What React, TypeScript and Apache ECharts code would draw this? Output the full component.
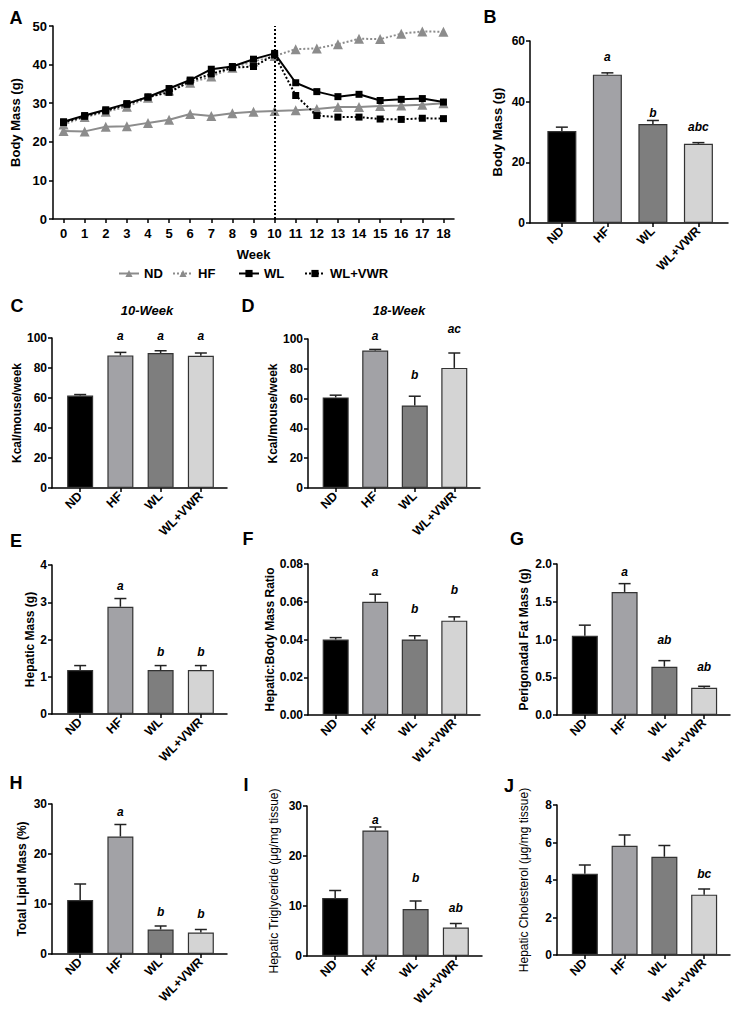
import React, { useEffect, useRef } from "react";
import * as echarts from "echarts";

const FONT = "'Liberation Sans', Arial, Helvetica, sans-serif";

const GROUPS = ["ND", "HF", "WL", "WL+VWR"];
const WEEKS = [0, 1, 2, 3, 4, 5, 6, 7, 8, 9, 10, 11, 12, 13, 14, 15, 16, 17, 18];
const ND_MASS = [22.8, 22.7, 23.9, 24.0, 24.9, 25.7, 27.2, 26.7, 27.4, 27.8, 28.0, 28.2, 28.5, 29.0, 29.0, 29.3, 29.4, 29.6, 30.0];
const HF_MASS = [24.5, 26.4, 27.8, 29.1, 31.4, 33.3, 35.3, 36.9, 39.2, 40.8, 42.2, 44.0, 44.2, 45.3, 46.7, 46.6, 48.0, 48.6, 48.5];
const WL_MASS = [25.2, 26.8, 28.3, 29.9, 31.6, 33.8, 36.0, 38.8, 39.5, 41.4, 42.9, 35.3, 33.0, 31.7, 32.3, 30.7, 31.0, 31.2, 30.3];
const VWR_MASS = [25.0, 26.6, 28.0, 29.7, 31.6, 32.8, 35.7, 37.6, 39.2, 39.5, 42.5, 32.0, 26.8, 26.4, 26.4, 25.9, 25.8, 26.1, 26.0];

// Bar panels: means, SEM, significance letters and the value level at which each letter sits
const B_MEAN = [30.3, 48.9, 32.6, 26.1];
const B_ERR = [1.3, 0.6, 1.2, 0.4];
const B_LET = ["", "a", "b", "abc"];
const B_LEV = [0, 54.7, 36.3, 31.7];

const C_MEAN = [61.6, 88.4, 90.0, 88.2];
const C_ERR = [0.7, 2.0, 1.5, 1.8];
const C_LET = ["", "a", "a", "a"];
const C_LEV = [0, 101.3, 101.3, 101.3];

const D_MEAN = [60.8, 92.2, 55.4, 80.6];
const D_ERR = [1.5, 0.8, 6.2, 10.0];
const D_LET = ["", "a", "b", "ac"];
const D_LEV = [0, 102, 75.8, 106.7];

const E_MEAN = [1.18, 2.88, 1.18, 1.18];
const E_ERR = [0.12, 0.22, 0.12, 0.12];
const E_LET = ["", "a", "b", "b"];
const E_LEV = [0, 3.43, 1.66, 1.66];

const F_MEAN = [0.04, 0.06, 0.04, 0.05];
const F_ERR = [0.001, 0.004, 0.002, 0.002];
const F_LET = ["", "a", "b", "b"];
const F_LEV = [0, 0.0758, 0.0562, 0.0662];

const G_MEAN = [1.05, 1.63, 0.64, 0.36];
const G_ERR = [0.14, 0.11, 0.08, 0.02];
const G_LET = ["", "a", "ab", "ab"];
const G_LEV = [0, 1.89, 0.99, 0.64];

const H_MEAN = [10.8, 23.5, 4.9, 4.3];
const H_ERR = [3.2, 2.4, 0.7, 0.6];
const H_LET = ["", "a", "b", "b"];
const H_LEV = [0, 28.4, 8.4, 8.0];

const I_MEAN = [11.6, 25.1, 9.4, 5.7];
const I_ERR = [1.5, 0.7, 1.6, 0.8];
const I_LET = ["", "a", "b", "ab"];
const I_LEV = [0, 27.3, 15.6, 9.6];

const J_MEAN = [4.34, 5.83, 5.24, 3.22];
const J_ERR = [0.46, 0.57, 0.6, 0.3];
const J_LET = ["", "", "", "bc"];
const J_LEV = [0, 0, 0, 4.32];

const BAR_COLORS = ["#000000", "#a2a2a6", "#7e7e7e", "#d4d4d4"];

type Panel = {
  grid: { left: number; top: number; width: number; height: number };
  max: number;
  interval: number;
  dec: number;
  yName: string;
  nameGap: number;
  nameWeight: string;
  nameSize: number;
  barWidth: number;
  means: number[];
  errs: number[];
  letters: string[];
  levels: number[];
};

const PANELS: Panel[] = [
  { grid: { left: 530, top: 41, width: 198, height: 182 }, max: 60, interval: 20, dec: 0, yName: "Body Mass (g)", nameGap: 26, nameWeight: "bold", nameSize: 13, barWidth: 29, means: B_MEAN, errs: B_ERR, letters: B_LET, levels: B_LEV },
  { grid: { left: 52, top: 338, width: 175, height: 150 }, max: 100, interval: 20, dec: 0, yName: "Kcal/mouse/week", nameGap: 19, nameWeight: "bold", nameSize: 12, barWidth: 26, means: C_MEAN, errs: C_ERR, letters: C_LET, levels: C_LEV },
  { grid: { left: 308, top: 339, width: 172, height: 149 }, max: 100, interval: 20, dec: 0, yName: "Kcal/mouse/week", nameGap: 22, nameWeight: "bold", nameSize: 12, barWidth: 26, means: D_MEAN, errs: D_ERR, letters: D_LET, levels: D_LEV },
  { grid: { left: 52, top: 565, width: 175, height: 149 }, max: 4, interval: 1, dec: 0, yName: "Hepatic Mass (g)", nameGap: 16, nameWeight: "bold", nameSize: 12, barWidth: 26, means: E_MEAN, errs: E_ERR, letters: E_LET, levels: E_LEV },
  { grid: { left: 308, top: 564, width: 172, height: 151 }, max: 0.08, interval: 0.02, dec: 2, yName: "Hepatic:Body Mass Ratio", nameGap: 28, nameWeight: "bold", nameSize: 12, barWidth: 26, means: F_MEAN, errs: F_ERR, letters: F_LET, levels: F_LEV },
  { grid: { left: 557, top: 564, width: 173, height: 151 }, max: 2, interval: 0.5, dec: 1, yName: "Perigonadal Fat Mass (g)", nameGap: 27, nameWeight: "bold", nameSize: 12, barWidth: 26, means: G_MEAN, errs: G_ERR, letters: G_LET, levels: G_LEV },
  { grid: { left: 52, top: 804, width: 175, height: 150 }, max: 30, interval: 10, dec: 0, yName: "Total Lipid Mass (%)", nameGap: 24, nameWeight: "bold", nameSize: 12, barWidth: 26, means: H_MEAN, errs: H_ERR, letters: H_LET, levels: H_LEV },
  { grid: { left: 307, top: 806, width: 175, height: 150 }, max: 30, interval: 10, dec: 0, yName: "Hepatic Triglyceride (\u03bcg/mg tissue)", nameGap: 27, nameWeight: "normal", nameSize: 12, barWidth: 26, means: I_MEAN, errs: I_ERR, letters: I_LET, levels: I_LEV },
  { grid: { left: 557, top: 805, width: 173, height: 150 }, max: 8, interval: 2, dec: 0, yName: "Hepatic Cholesterol (\u03bcg/mg tissue)", nameGap: 27, nameWeight: "normal", nameSize: 12, barWidth: 26, means: J_MEAN, errs: J_ERR, letters: J_LET, levels: J_LEV },
];

const PANEL_LABELS: [string, number, number][] = [
  ["A", 16, 18], ["B", 490, 17], ["C", 17, 306], ["D", 248, 306], ["E", 16, 541],
  ["F", 248, 539], ["G", 517, 539], ["H", 16, 783], ["I", 246, 785], ["J", 509, 786],
];

const LEGEND_LEFT = [118, 172, 238, 304];

function buildOption() {
  const axisLine = { show: true, onZero: false, lineStyle: { color: "#000", width: 1.5 } };
  const axisTick = { show: true, length: 4, lineStyle: { color: "#000", width: 1.5 } };
  const lab = { color: "#000", fontFamily: FONT, fontWeight: "bold", fontSize: 12 };

  const grids: any[] = [{ left: 53, top: 26, width: 401, height: 193 }];
  const xAxes: any[] = [
    {
      type: "value", gridIndex: 0, min: -0.5, max: 18.5,
      axisLine, axisTick: { ...axisTick, customValues: WEEKS },
      axisLabel: { ...lab, fontSize: 13, margin: 8, customValues: WEEKS },
      splitLine: { show: false },
      name: "Week", nameLocation: "middle", nameGap: 29,
      nameTextStyle: { ...lab, fontSize: 13 },
    },
  ];
  const yAxes: any[] = [
    {
      type: "value", gridIndex: 0, min: 0, max: 50, interval: 10,
      axisLine, axisTick, axisLabel: { ...lab, fontSize: 13, margin: 6 },
      splitLine: { show: false },
      name: "Body Mass (g)", nameLocation: "middle", nameGap: 23,
      nameTextStyle: { ...lab, fontSize: 13 },
    },
  ];
  const series: any[] = [];
  const gray = "#8c8c8c";
  const lineDefs: [string, number[], string, string, string, number][] = [
    ["ND", ND_MASS, gray, "solid", "triangle", 10],
    ["HF", HF_MASS, gray, "dotted", "triangle", 10],
    ["WL", WL_MASS, "#000", "solid", "rect", 7],
    ["WL+VWR", VWR_MASS, "#000", "dotted", "rect", 7],
  ];
  lineDefs.forEach(([name, vals, color, type, symbol, size], idx) => {
    const s: any = {
      type: "line", name, xAxisIndex: 0, yAxisIndex: 0,
      data: WEEKS.map((w, i) => [w, vals[i]]),
      symbol, symbolSize: size,
      lineStyle: { color, width: 2, type },
      itemStyle: { color },
      z: 3 + idx,
    };
    if (name === "WL+VWR") {
      s.markLine = {
        silent: true, symbol: "none", label: { show: false },
        lineStyle: { color: "#000", type: "dotted", width: 2 },
        data: [{ xAxis: 10 }],
      };
    }
    series.push(s);
  });

  PANELS.forEach((p, k) => {
    const gi = k + 1;
    grids.push(p.grid);
    xAxes.push({
      type: "value", gridIndex: gi, min: -0.7, max: 3.65,
      axisLine, axisTick: { ...axisTick, customValues: [0, 1, 2, 3] },
      axisLabel: {
        ...lab, fontSize: 12.5, rotate: 45, margin: 6, customValues: [0, 1, 2, 3],
        formatter: (v: number) => GROUPS[Math.round(v)] ?? "",
      },
      splitLine: { show: false },
    });
    yAxes.push({
      type: "value", gridIndex: gi, min: 0, max: p.max, interval: p.interval,
      axisLine, axisTick,
      axisLabel: { ...lab, margin: 5, formatter: (v: number) => v.toFixed(p.dec) },
      splitLine: { show: false },
      name: p.yName, nameLocation: "middle", nameGap: p.nameGap,
      nameTextStyle: { ...lab, fontSize: p.nameSize, fontWeight: p.nameWeight },
    });
    series.push({
      type: "bar", xAxisIndex: gi, yAxisIndex: gi, barWidth: p.barWidth,
      data: p.means.map((m, i) => ({
        value: [i, m],
        itemStyle: { color: BAR_COLORS[i], borderColor: "#333", borderWidth: 1.2 },
      })),
      z: 2,
    });
    series.push({
      type: "custom", xAxisIndex: gi, yAxisIndex: gi, z: 3,
      data: p.means.map((m, i) => [i, m, p.errs[i]]),
      renderItem: (params: any, api: any) => {
        const x = api.value(0), m = api.value(1), e = api.value(2);
        const b = api.coord([x, m]);
        const t = api.coord([x, m + e]);
        const hw = 6;
        return {
          type: "group",
          children: [
            { type: "line", shape: { x1: b[0], y1: b[1], x2: t[0], y2: t[1] }, style: { stroke: "#222", lineWidth: 1.5 } },
            { type: "line", shape: { x1: t[0] - hw, y1: t[1], x2: t[0] + hw, y2: t[1] }, style: { stroke: "#222", lineWidth: 1.5 } },
          ],
        };
      },
    });
    series.push({
      type: "custom", xAxisIndex: gi, yAxisIndex: gi, z: 4,
      data: p.levels.map((l, i) => [i, l]),
      renderItem: (params: any, api: any) => {
        const txt = p.letters[params.dataIndex];
        if (!txt) return null;
        const c = api.coord([api.value(0), api.value(1)]);
        return {
          type: "text", x: c[0], y: c[1],
          style: {
            text: txt, fill: "#000", font: `italic bold 12px ${FONT}`,
            textAlign: "center", textVerticalAlign: "middle",
          },
        };
      },
    });
  });

  const graphic: any[] = PANEL_LABELS.map(([t, x, y]) => ({
    type: "text", x, y,
    style: { text: t, fill: "#000", font: `bold 18px ${FONT}`, textAlign: "center", textVerticalAlign: "middle" },
  }));
  graphic.push({
    type: "text", x: 147, y: 310,
    style: { text: "10-Week", fill: "#000", font: `italic bold 13px ${FONT}`, textAlign: "center", textVerticalAlign: "middle" },
  });
  graphic.push({
    type: "text", x: 399, y: 310,
    style: { text: "18-Week", fill: "#000", font: `italic bold 13px ${FONT}`, textAlign: "center", textVerticalAlign: "middle" },
  });

  const legends = GROUPS.map((g, i) => ({
    data: [g],
    left: LEGEND_LEFT[i], top: 267, padding: 0,
    itemWidth: 20, itemHeight: 9, itemGap: 0,
    textStyle: { ...lab, fontSize: 13 },
  }));

  return {
    animation: false,
    backgroundColor: "#fff",
    textStyle: { fontFamily: FONT },
    grid: grids,
    xAxis: xAxes,
    yAxis: yAxes,
    legend: legends,
    series,
    graphic,
  };
}

export default function App() {
  const ref = useRef<HTMLDivElement>(null);
  useEffect(() => {
    const chart = echarts.init(ref.current!, null, { renderer: "svg" });
    chart.setOption(buildOption() as any);
    return () => chart.dispose();
  }, []);
  return (
    <div
      ref={ref}
      style={{ position: "absolute", left: 0, top: 0, width: 738, height: 1019, background: "#fff" }}
    />
  );
}
